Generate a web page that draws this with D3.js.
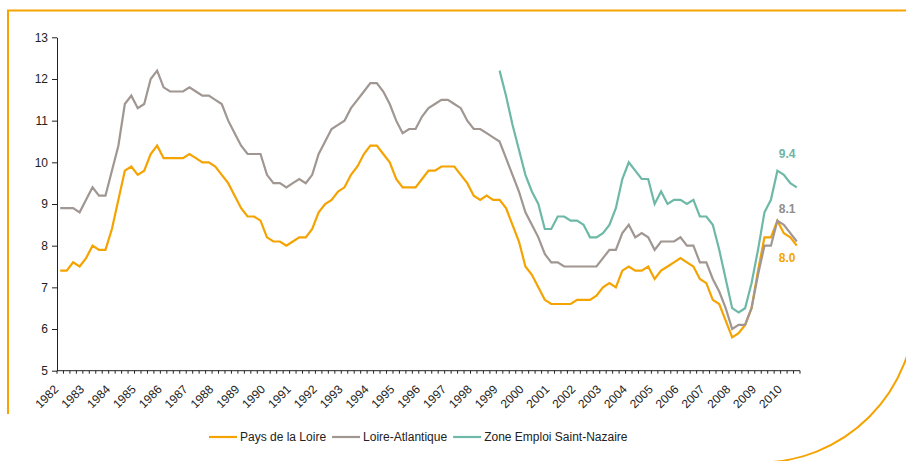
<!DOCTYPE html>
<html lang="fr">
<head>
<meta charset="UTF-8" />
<title>Taux de chômage</title>
<script src="https://d3js.org/d3.v7.min.js"></script>
<style>
  body { margin: 0; background: #fff; font-family: Arial, "Liberation Sans", sans-serif; }
  svg text { fill: #222; }
</style>
</head>
<body>
<svg id="chart" width="906" height="461"></svg>
<script>
// years on the axis, data is quarterly from 1982 T1 to 2010 T3
const years = d3.range(1982, 2011);
const lastQuarter = 3;

const paysLoire = [
  7.4, 7.4, 7.6, 7.5, 7.7, 8.0, 7.9, 7.9, 8.4, 9.1, 9.8, 9.9, 9.7, 9.8, 10.2, 10.4,
  10.1, 10.1, 10.1, 10.1, 10.2, 10.1, 10.0, 10.0, 9.9, 9.7, 9.5, 9.2, 8.9, 8.7, 8.7, 8.6,
  8.2, 8.1, 8.1, 8.0, 8.1, 8.2, 8.2, 8.4, 8.8, 9.0, 9.1, 9.3, 9.4, 9.7, 9.9, 10.2,
  10.4, 10.4, 10.2, 10.0, 9.6, 9.4, 9.4, 9.4, 9.6, 9.8, 9.8, 9.9, 9.9, 9.9, 9.7, 9.5,
  9.2, 9.1, 9.2, 9.1, 9.1, 8.9, 8.5, 8.1, 7.5, 7.3, 7.0, 6.7, 6.6, 6.6, 6.6, 6.6,
  6.7, 6.7, 6.7, 6.8, 7.0, 7.1, 7.0, 7.4, 7.5, 7.4, 7.4, 7.5, 7.2, 7.4, 7.5, 7.6,
  7.7, 7.6, 7.5, 7.2, 7.1, 6.7, 6.6, 6.2, 5.8, 5.9, 6.1, 6.5, 7.4, 8.2, 8.2, 8.6,
  8.3, 8.2, 8.0
];

const loireAtlantique = [
  8.9, 8.9, 8.9, 8.8, 9.1, 9.4, 9.2, 9.2, 9.8, 10.4, 11.4, 11.6, 11.3, 11.4, 12.0, 12.2,
  11.8, 11.7, 11.7, 11.7, 11.8, 11.7, 11.6, 11.6, 11.5, 11.4, 11.0, 10.7, 10.4, 10.2, 10.2, 10.2,
  9.7, 9.5, 9.5, 9.4, 9.5, 9.6, 9.5, 9.7, 10.2, 10.5, 10.8, 10.9, 11.0, 11.3, 11.5, 11.7,
  11.9, 11.9, 11.7, 11.4, 11.0, 10.7, 10.8, 10.8, 11.1, 11.3, 11.4, 11.5, 11.5, 11.4, 11.3, 11.0,
  10.8, 10.8, 10.7, 10.6, 10.5, 10.1, 9.7, 9.3, 8.8, 8.5, 8.2, 7.8, 7.6, 7.6, 7.5, 7.5,
  7.5, 7.5, 7.5, 7.5, 7.7, 7.9, 7.9, 8.3, 8.5, 8.2, 8.3, 8.2, 7.9, 8.1, 8.1, 8.1,
  8.2, 8.0, 8.0, 7.6, 7.6, 7.2, 6.9, 6.5, 6.0, 6.1, 6.1, 6.5, 7.3, 8.0, 8.0, 8.6,
  8.5, 8.3, 8.1
];

// zone d'emploi series only starts in 1999 T1
const saintNazaireStart = "1999 T1";
const saintNazaire = [
  12.2, 11.6, 10.9, 10.3, 9.7, 9.3, 9.0, 8.4, 8.4, 8.7, 8.7, 8.6, 8.6, 8.5, 8.2, 8.2,
  8.3, 8.5, 8.9, 9.6, 10.0, 9.8, 9.6, 9.6, 9.0, 9.3, 9.0, 9.1, 9.1, 9.0, 9.1, 8.7,
  8.7, 8.5, 7.9, 7.2, 6.5, 6.4, 6.5, 7.1, 7.9, 8.8, 9.1, 9.8, 9.7, 9.5, 9.4
];

const seriesNames = ["Pays de la Loire", "Loire-Atlantique", "Zone Emploi Saint-Nazaire"];
const seriesColors = ["#f5a300", "#a09692", "#6db8a6"];
const labelColors = ["#f5a300", "#8e8e8e", "#6db5a5"];
const yTicks = [5, 6, 7, 8, 9, 10, 11, 12, 13];

const quarters = [];
years.forEach(yr => {
  for (let q = 1; q <= 4; q++) {
    if (yr === years[years.length - 1] && q > lastQuarter) break;
    quarters.push(yr + " T" + q);
  }
});

const startIdx = quarters.indexOf(saintNazaireStart);
const series = [
  { name: seriesNames[0], color: seriesColors[0], label: labelColors[0],
    points: paysLoire.map((v, i) => ({ q: quarters[i], v })) },
  { name: seriesNames[1], color: seriesColors[1], label: labelColors[1],
    points: loireAtlantique.map((v, i) => ({ q: quarters[i], v })) },
  { name: seriesNames[2], color: seriesColors[2], label: labelColors[2],
    points: saintNazaire.map((v, i) => ({ q: quarters[startIdx + i], v })) }
];

const svg = d3.select("#chart");

// orange frame with rounded bottom right corner
svg.append("path")
  .attr("d", "M8,414 L8,10.5 L915,10.5 L915,306.6 A156,156 0 0 1 759.3,462.6")
  .attr("fill", "none")
  .attr("stroke", "#f5a300")
  .attr("stroke-width", 2);

const x = d3.scaleBand().domain(quarters).range([57, 800]).padding(0);
const y = d3.scaleLinear().domain([5, 13]).range([370.7, 37.3]);
const cx = q => x(q) + x.bandwidth() / 2;

// y axis
const yAxis = svg.append("g")
  .attr("transform", "translate(57,0)")
  .call(d3.axisLeft(y).tickValues(yTicks).tickSize(5).tickPadding(4).tickSizeOuter(0));
yAxis.selectAll("text").style("font-size", "12px").attr("fill", "#222");
yAxis.selectAll("line, path").attr("stroke", "#222");

// x axis: line, ticks at category boundaries, year labels
const xg = svg.append("g");
xg.append("line")
  .attr("x1", 57).attr("x2", 800)
  .attr("y1", y(5)).attr("y2", y(5))
  .attr("stroke", "#222");
xg.selectAll("line.tick")
  .data(quarters.concat([null]))
  .join("line")
  .attr("class", "tick")
  .attr("x1", d => d === null ? 800 : x(d))
  .attr("x2", d => d === null ? 800 : x(d))
  .attr("y1", y(5)).attr("y2", y(5) + 3)
  .attr("stroke", "#222");
xg.selectAll("text")
  .data(years)
  .join("text")
  .attr("transform", d => `translate(${cx(d + " T1") - 1},390) rotate(-45)`)
  .attr("text-anchor", "end")
  .style("font-size", "12px")
  .text(d => d);

// lines
const line = d3.line().x(d => cx(d.q)).y(d => y(d.v));
svg.selectAll("path.series")
  .data(series)
  .join("path")
  .attr("class", "series")
  .attr("d", d => line(d.points))
  .attr("fill", "none")
  .attr("stroke", d => d.color)
  .attr("stroke-width", 2.2);

// end values
const endOffsets = [16, -29, -29];
series.forEach((s, i) => {
  const last = s.points[s.points.length - 1];
  svg.append("text")
    .attr("x", cx(last.q) - 18)
    .attr("y", y(last.v) + endOffsets[i])
    .attr("fill", s.label)
    .style("fill", s.label)
    .style("font-size", "12px")
    .style("font-weight", "bold")
    .text(last.v.toFixed(1));
});

// legend
const legend = svg.append("g").attr("transform", "translate(209,437)");
let lx = 0;
series.forEach(s => {
  legend.append("line")
    .attr("x1", lx).attr("x2", lx + 28)
    .attr("stroke", s.color).attr("stroke-width", 2.2);
  const t = legend.append("text")
    .attr("x", lx + 31).attr("y", 4)
    .style("font-size", "12px")
    .text(s.name);
  lx += 31 + t.node().getComputedTextLength() + 6;
});
</script>
</body>
</html>
